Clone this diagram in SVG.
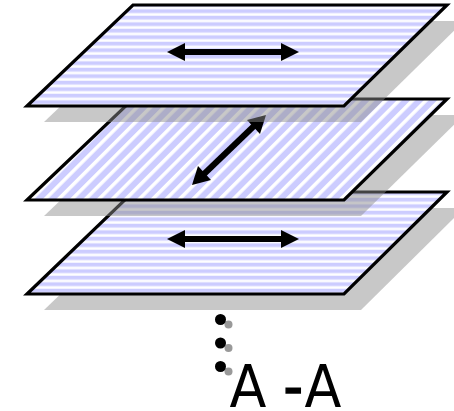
<svg xmlns="http://www.w3.org/2000/svg" width="454" height="411" viewBox="0 0 454 411">
<defs>
<pattern id="h" width="10" height="6.500" patternUnits="userSpaceOnUse" y="3"><rect width="10" height="6.500" fill="#fff"/><rect width="10" height="3.500" fill="#ccf"/><rect width="10" height=".5" y="3.500" fill="#e6e6ff"/><rect width="10" height=".5" y="6" fill="#e6e6ff"/></pattern>
<pattern id="d" width="9.500" height="10" patternUnits="userSpaceOnUse" patternTransform="rotate(45)"><rect width="9.500" height="10" fill="#ccf"/><rect width="3.500" height="10" fill="#fff"/></pattern>
</defs>
<style>
.p{stroke:#000;stroke-width:3.200;stroke-linejoin:miter}
.s{fill:#8d8d8d;fill-opacity:.48}
.a{stroke:#000;stroke-width:6;fill:none}
.h{fill:#000}
.d{fill:#000}
.g{fill:#999}
text{font-family:"DejaVu Sans",sans-serif;font-size:58px;fill:#000}
</style>
<g id="plane-3">
<polygon class="s" points="150,208 464,208 361,310 44,310"/>
<polygon class="p" fill="url(#h)" points="133,192 447,192 344,294 27,294"/>
<line class="a" x1="182" y1="239" x2="284" y2="239"/>
<polygon class="h" points="167,239 185,230 185,248"/>
<polygon class="h" points="299,239 281,230 281,248"/>
</g>
<g id="plane-2">
<polygon class="s" points="150,115 464,115 361,216 44,216"/>
<polygon class="p" fill="url(#d)" points="133,99 447,99 344,200 27,200"/>
<line class="a" x1="203" y1="175" x2="255" y2="125"/>
<polygon class="h" points="192,185 198,166 211,180"/>
<polygon class="h" points="266,115 260,134 247,120"/>
</g>
<g id="plane-1">
<polygon class="s" points="150,21 464,21 361,122 44,122"/>
<polygon class="p" fill="url(#h)" points="133,5 447,5 344,106 27,106"/>
<line class="a" x1="182" y1="52" x2="284" y2="52"/>
<polygon class="h" points="167,52 185,43 185,61"/>
<polygon class="h" points="299,52 281,43 281,61"/>
</g>
<g id="dots">
<circle class="g" cx="228.500" cy="324.500" r="4"/><circle class="d" cx="220.500" cy="319.500" r="5.500"/>
<circle class="g" cx="228.500" cy="348" r="4"/><circle class="d" cx="220.500" cy="343" r="5.500"/>
<circle class="g" cx="228.500" cy="371.500" r="4"/><circle class="d" cx="220.500" cy="366.500" r="5.500"/>
</g>
<text id="label" transform="translate(229.500,407) scale(.93,1)">A <tspan stroke="#000" stroke-width="1.500">-</tspan><tspan dx="1.500">A</tspan></text>
</svg>
